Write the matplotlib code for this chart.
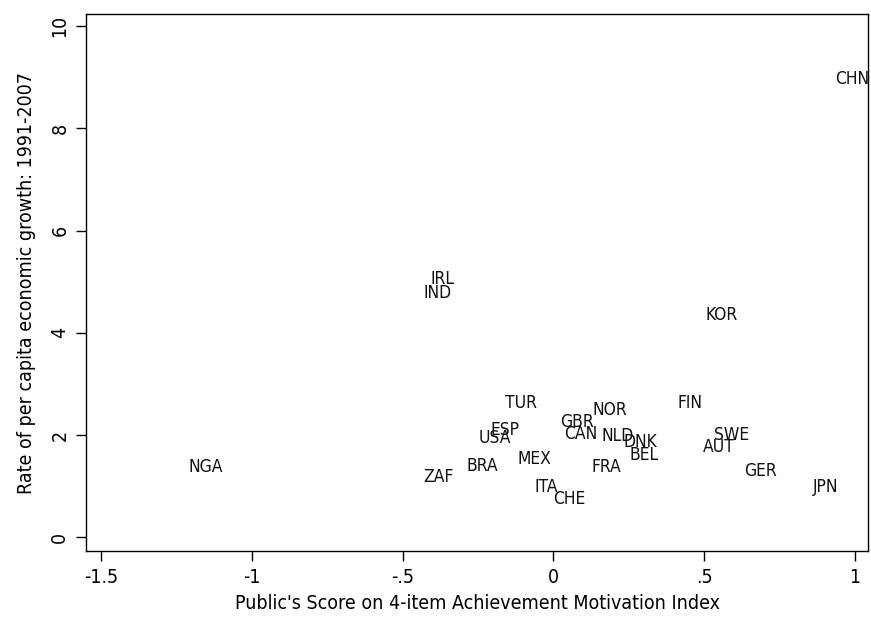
import matplotlib
matplotlib.use("Agg")
import matplotlib.pyplot as plt

countries = ["NGA", "IRL", "IND", "ZAF", "BRA", "USA", "ESP", "TUR", "MEX", "ITA",
             "CHE", "GBR", "CAN", "NOR", "NLD", "FRA", "DNK", "BEL", "FIN", "KOR",
             "SWE", "AUT", "GER", "JPN", "CHN"]
achievement = [-1.152, -0.369, -0.384, -0.380, -0.234, -0.194, -0.160, -0.106, -0.064, -0.023,
               0.053, 0.078, 0.091, 0.189, 0.215, 0.175, 0.290, 0.302, 0.455, 0.558,
               0.593, 0.548, 0.686, 0.904, 0.99]
growth = [1.37, 5.06, 4.78, 1.18, 1.39, 1.94, 2.10, 2.63, 1.53, 0.98,
          0.75, 2.25, 2.02, 2.49, 1.98, 1.37, 1.86, 1.61, 2.63, 4.35,
          2.00, 1.76, 1.29, 0.98, 8.96]
xticks = [-1.5, -1, -0.5, 0, 0.5, 1]
xticklabels = ["-1.5", "-1", "-.5", "0", ".5", "1"]
yticks = [0, 2, 4, 6, 8, 10]

plt.rcParams['font.family'] = ['DejaVu Sans']
plt.rcParams['font.stretch'] = 'condensed'
fig = plt.figure(figsize=(8.71, 6.20), dpi=100)
ax = fig.add_axes([86/871, 69/620, 782/871, 537/620])

for c, x, y in zip(countries, achievement, growth):
    ax.text(x, y, c, ha='center', va='center', fontsize=12.5, color='#111111',
            fontstretch='condensed')

ax.set_xlim(-1.55, 1.044)
ax.set_ylim(-0.27, 10.24)
ax.set_xticks(xticks)
ax.set_xticklabels(xticklabels, fontsize=14, fontstretch='condensed')
ax.set_yticks(yticks)
ax.set_yticklabels([str(v) for v in yticks], fontsize=14, rotation=90, va='center',
                   fontstretch='condensed')
ax.tick_params(direction='out', length=7, width=1, color='black', pad=5)
for s in ax.spines.values():
    s.set_linewidth(1)
    s.set_color('black')
ax.set_xlabel("Public's Score on 4-item Achievement Motivation Index", fontsize=14,
              labelpad=5, fontstretch='condensed')
ax.set_ylabel("Rate of per capita economic growth: 1991-2007", fontsize=14,
              labelpad=10, fontstretch='condensed')

fig.savefig("out.png", dpi=100)
